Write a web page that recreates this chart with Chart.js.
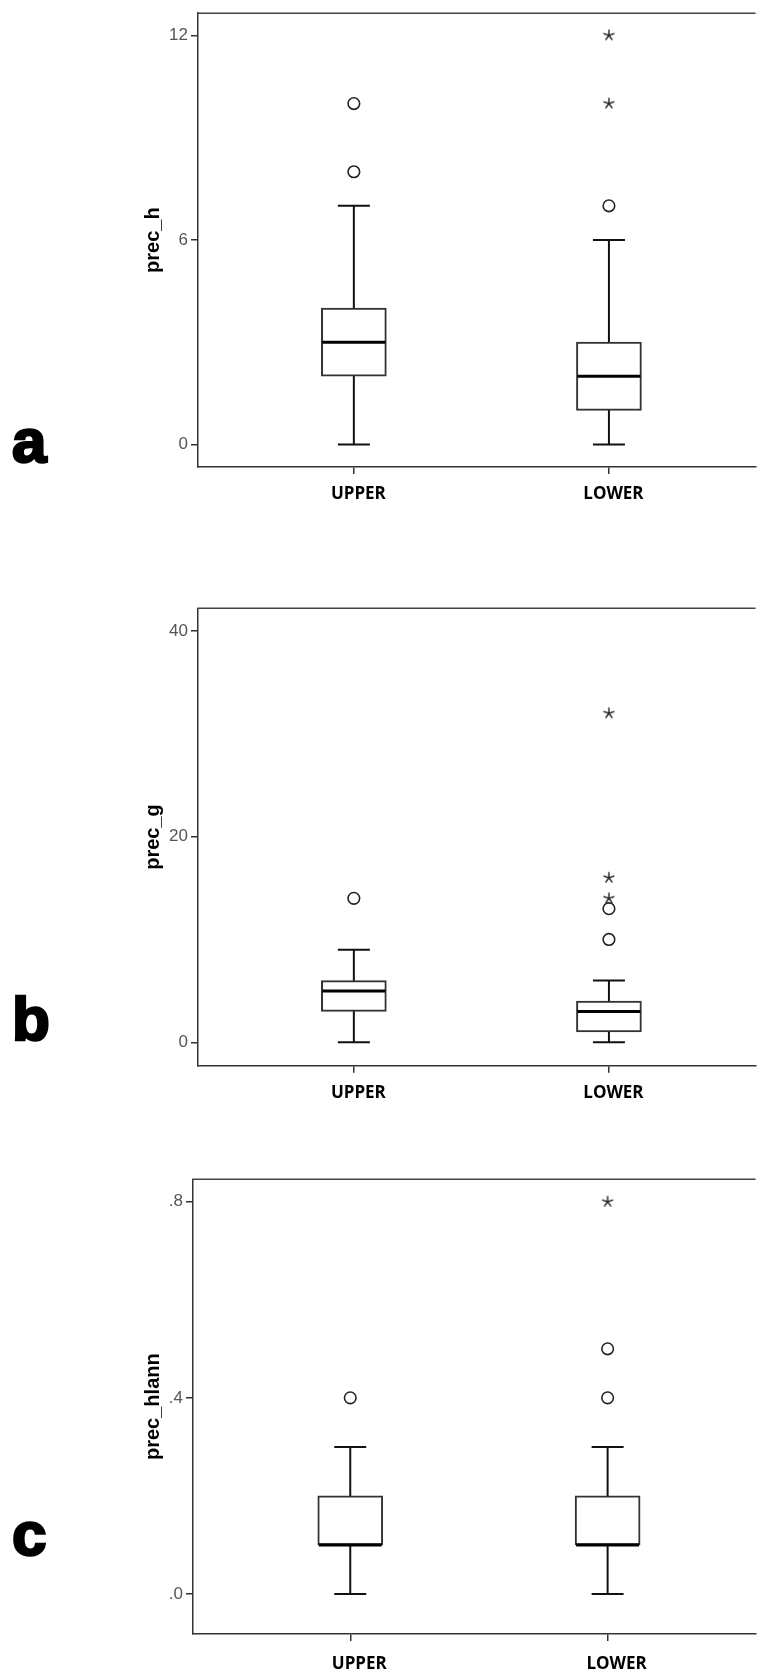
<!DOCTYPE html>
<html>
<head>
<meta charset="utf-8">
<script src="https://cdn.jsdelivr.net/npm/chart.js@4.4.1/dist/chart.umd.min.js"></script>
<style>
  html, body { margin: 0; padding: 0; background: #fff; width: 763px; height: 1675px; overflow: hidden; }
  canvas { position: absolute; left: 0; display: block; }
  .tag {
    position: absolute; left: 12px; margin: 0;
    font-family: "Liberation Sans", Arial, sans-serif; font-weight: bold;
    font-size: 62px; line-height: 62px; color: #000;
    -webkit-text-stroke: 2.5px #000;
  }
</style>
</head>
<body>
<canvas id="panelA" width="763" height="540" style="top:0px"></canvas>
<canvas id="panelB" width="763" height="560" style="top:560px"></canvas>
<canvas id="panelC" width="763" height="535" style="top:1140px"></canvas>
<div class="tag" style="top:410px">a</div>
<div class="tag" style="top:988px">b</div>
<div class="tag" style="top:1503px">c</div>

<script>
// Groups on the horizontal axis
const groups = ['UPPER', 'LOWER'];

// prec_h: five-number summaries per group
const precH_min = [0, 0];
const precH_q1 = [2, 1];
const precH_median = [3, 2];
const precH_q3 = [4, 3];
const precH_max = [7, 6];
const precH_outliers = [[10, 8], [7]];      // circles
const precH_extremes = [[], [12, 10]];      // stars
const precH_ticks = [0, 6, 12];

// prec_g
const precG_min = [0, 0];
const precG_q1 = [3, 1];
const precG_median = [5, 3];
const precG_q3 = [6, 4];
const precG_max = [9, 6];
const precG_outliers = [[14], [13, 10]];
const precG_extremes = [[], [32, 16, 14]];
const precG_ticks = [0, 20, 40];

// prec_hlann
const precHl_min = [0, 0];
const precHl_q1 = [0.1, 0.1];
const precHl_median = [0.1, 0.1];
const precHl_q3 = [0.2, 0.2];
const precHl_max = [0.3, 0.3];
const precHl_outliers = [[0.4], [0.5, 0.4]];
const precHl_extremes = [[], [0.8]];
const precHl_ticks = [0, 0.4, 0.8];

// Asterisk marker for extreme values
function makeStar() {
  const c = document.createElement('canvas');
  c.width = 16; c.height = 16;
  const g = c.getContext('2d');
  g.strokeStyle = '#222';
  g.lineWidth = 1.4;
  g.lineCap = 'butt';
  for (let k = 0; k < 5; k++) {
    const a = -Math.PI / 2 + k * 2 * Math.PI / 5;
    g.beginPath();
    g.moveTo(8, 8);
    g.lineTo(8 + 5.8 * Math.cos(a), 8 + 5.8 * Math.sin(a));
    g.stroke();
  }
  return c;
}
const starMarker = makeStar();

function seg(ctx, x1, y1, x2, y2) {
  ctx.beginPath();
  ctx.moveTo(x1, y1);
  ctx.lineTo(x2, y2);
  ctx.stroke();
}

// Whiskers, caps, medians and the top frame line
function boxParts(s) {
  return {
    id: 'boxParts',
    beforeDatasetsDraw(chart) {
      const { ctx, scales: { x, y } } = chart;
      ctx.save();
      ctx.strokeStyle = '#111';
      ctx.lineWidth = 2;
      groups.forEach((g, i) => {
        const cx = x.getPixelForValue(i + 1);
        const yLo = y.getPixelForValue(s.min[i]);
        const yHi = y.getPixelForValue(s.max[i]);
        seg(ctx, cx, yLo, cx, yHi);
        seg(ctx, cx - 16, yLo, cx + 16, yLo);
        seg(ctx, cx - 16, yHi, cx + 16, yHi);
      });
      ctx.restore();
    },
    afterDatasetsDraw(chart) {
      const { ctx, scales: { y } } = chart;
      const bars = chart.getDatasetMeta(0).data;
      ctx.save();
      ctx.strokeStyle = '#000';
      ctx.lineWidth = 3;
      groups.forEach((g, i) => {
        const el = bars[i];
        const ym = y.getPixelForValue(s.median[i]);
        seg(ctx, el.x - el.width / 2 + 1, ym, el.x + el.width / 2 - 1, ym);
      });
      ctx.restore();
    },
    afterDraw(chart) {
      const { ctx, chartArea } = chart;
      ctx.save();
      ctx.strokeStyle = '#444';
      ctx.lineWidth = 1.5;
      seg(ctx, chartArea.left - 0.75, chartArea.top, chartArea.right, chartArea.top);
      ctx.restore();
    }
  };
}

function buildPanel(id, s) {
  const boxData = groups.map((g, i) => ({ x: i + 1, y: [s.q1[i], s.q3[i]] }));
  const circleData = [];
  s.outliers.forEach((list, i) => list.forEach(v => circleData.push({ x: i + 1, y: v })));
  const starData = [];
  s.extremes.forEach((list, i) => list.forEach(v => starData.push({ x: i + 1, y: v })));

  return new Chart(document.getElementById(id), {
    type: 'bar',
    data: {
      datasets: [
        {
          type: 'bar', data: boxData, order: 3,
          backgroundColor: '#fff', borderColor: '#333', borderWidth: 2,
          borderSkipped: false, barThickness: 65
        },
        {
          type: 'scatter', data: circleData, order: 1,
          pointStyle: 'circle', pointRadius: 5.8, pointBorderWidth: 1.6,
          pointBorderColor: '#222', pointBackgroundColor: 'rgba(255,255,255,0)'
        },
        {
          type: 'scatter', data: starData, order: 0,
          pointStyle: starMarker, pointRadius: 6
        }
      ]
    },
    options: {
      responsive: false,
      animation: false,
      events: [],
      layout: { padding: { top: s.top, left: 0, right: 0, bottom: 0 } },
      plugins: { legend: { display: false }, tooltip: { enabled: false } },
      scales: {
        x: {
          type: 'linear', min: 0.389, max: 2.575, offset: false,
          grid: { display: true, drawOnChartArea: false, drawTicks: true, tickLength: 7,
                  color: '#333', lineWidth: 1.5, offset: false },
          border: { display: true, color: '#333', width: 1.5 },
          ticks: {
            autoSkip: false, maxRotation: 0, padding: s.labelPad, labelOffset: s.labelShift,
            color: '#000', font: { family: 'Open Sans', size: 17, weight: 'bold' },
            callback: v => groups[v - 1]
          },
          afterBuildTicks: sc => { sc.ticks = groups.map((g, i) => ({ value: i + 1 })); },
          afterFit: sc => { sc.height = s.axisH; }
        },
        y: {
          type: 'linear', min: s.yMin, max: s.yMax,
          grid: { display: true, drawOnChartArea: false, drawTicks: true, tickLength: 7,
                  color: '#333', lineWidth: 1.5 },
          border: { display: true, color: '#333', width: 1.5 },
          ticks: {
            padding: 3, color: '#555',
            font: { family: 'Liberation Sans', size: 17 },
            callback: s.fmt
          },
          afterBuildTicks: sc => { sc.ticks = s.ticks.map(v => ({ value: v })); },
          title: {
            display: true, text: s.title, color: '#000',
            font: { family: 'Liberation Sans', size: 20, weight: 'bold' },
            padding: { top: 141.5, bottom: 0 }
          },
          afterFit: sc => { sc.width = s.left; }
        }
      }
    },
    plugins: [boxParts(s)]
  });
}

const plain = v => String(v);
const noLeadingZero = v => v.toFixed(1).replace(/^0/, '');

buildPanel('panelA', {
  title: 'prec_h', min: precH_min, q1: precH_q1, median: precH_median, q3: precH_q3, max: precH_max,
  outliers: precH_outliers, extremes: precH_extremes, ticks: precH_ticks, fmt: plain,
  yMin: -0.661, yMax: 12.65, top: 10, axisH: 73, left: 198, labelShift: 4.5, labelPad: 10
});
buildPanel('panelB', {
  title: 'prec_g', min: precG_min, q1: precG_q1, median: precG_median, q3: precG_q3, max: precG_max,
  outliers: precG_outliers, extremes: precG_extremes, ticks: precG_ticks, fmt: plain,
  yMin: -2.276, yMax: 42.208, top: 48.3, axisH: 54.3, left: 198, labelShift: 4.5, labelPad: 10
});
buildPanel('panelC', {
  title: 'prec_hlann', min: precHl_min, q1: precHl_q1, median: precHl_median, q3: precHl_q3, max: precHl_max,
  outliers: precHl_outliers, extremes: precHl_extremes, ticks: precHl_ticks, fmt: noLeadingZero,
  yMin: -0.0816, yMax: 0.8457, top: 39.3, axisH: 41, left: 193, labelShift: 9, labelPad: 13
});
</script>
</body>
</html>
